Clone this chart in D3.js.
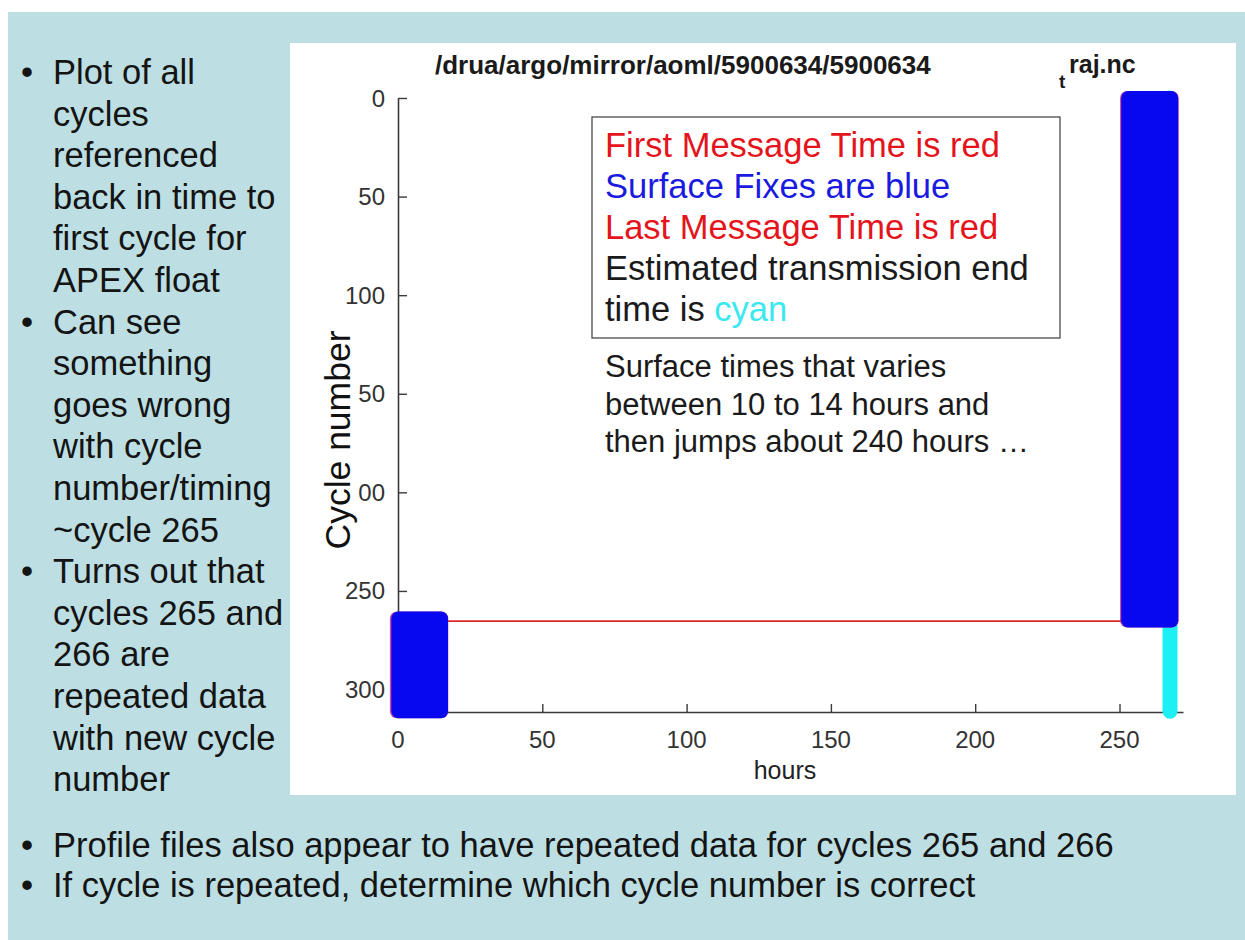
<!DOCTYPE html>
<html>
<head>
<meta charset="utf-8">
<script src="https://cdn.jsdelivr.net/npm/d3@7"></script>
<style>
  html, body { margin: 0; padding: 0; background: #ffffff; }
  svg { display: block; }
  text { font-family: "Liberation Sans", Arial, sans-serif; }
</style>
</head>
<body>
<div id="slide"></div>
<script>
// cycle blocks: 0 = cycles before the jump, 1 = repeated cycles afterwards
const blockCycleFrom = [0, 264]
const blockCycleTo = [265, 311]
const firstMsgHourFrom = [252.6, -0.4]
const surfaceFixHourFrom = [253.0, 0.1]
const surfaceFixHourTo = [267.9, 14.9]
const lastMsgHourTo = [268.1, 15.0]

// red jump line at cycle 265
const jumpHours = [15, 253]
const jumpCycle = 265.3

// estimated transmission end time (cyan)
const endTimeHour = 267.5
const endTimeCycles = [0, 311]

const xTicks = [0, 50, 100, 150, 200, 250]
const yTicks = [0, 50, 100, 150, 200, 250, 300]

const legendLines = [
    { text: "First Message Time is red", color: "#e5141c" },
    { text: "Surface Fixes are blue", color: "#1a1ae0" },
    { text: "Last Message Time is red", color: "#e5141c" },
    { text: "Estimated transmission end", color: "#1a1a1a" }
]
const noteLines = [
    "Surface times that varies",
    "between 10 to 14 hours and",
    "then jumps about 240 hours \u2026"
]
const sideBullets = [
    ["Plot of all", "cycles", "referenced", "back in time to", "first cycle for", "APEX float"],
    ["Can see", "something", "goes wrong", "with cycle", "number/timing", "~cycle 265"],
    ["Turns out that", "cycles 265 and", "266 are", "repeated data", "with new cycle", "number"]
]
const bottomBullets = [
    "Profile files also appear to have repeated data for cycles 265 and 266",
    "If cycle is repeated, determine which cycle number is correct"
]

const W = 1245, H = 940
const svg = d3.select("#slide").append("svg")
    .attr("width", W)
    .attr("height", H)

// slide background
svg.append("rect").attr("x", 8).attr("y", 12).attr("width", W - 8).attr("height", H - 12)
    .attr("fill", "#bddfe3")

// bullets on the left
const textColor = "#141414"
let line = 0
sideBullets.forEach(group => {
    group.forEach((t, i) => {
        const y = 84 + line * 41.6
        if (i === 0) {
            svg.append("text").attr("x", 21).attr("y", y).attr("font-size", 34.5)
                .attr("fill", textColor).text("\u2022")
        }
        svg.append("text").attr("x", 53).attr("y", y).attr("font-size", 34.5)
            .attr("fill", textColor).text(t)
        line++
    })
})

bottomBullets.forEach((t, i) => {
    const y = 857 + i * 40
    svg.append("text").attr("x", 21).attr("y", y).attr("font-size", 34.5)
        .attr("fill", textColor).text("\u2022")
    svg.append("text").attr("x", 53).attr("y", y).attr("font-size", 34.5)
        .attr("fill", textColor).text(t)
})

// white figure panel
svg.append("rect").attr("x", 290).attr("y", 43).attr("width", 946).attr("height", 752)
    .attr("fill", "#ffffff")

// plot area
const plot = { left: 398, top: 98, right: 1183, bottom: 712 }
const x = d3.scaleLinear().domain([0, 272]).range([plot.left, plot.right])
const y = d3.scaleLinear().domain([0, 311.4]).range([plot.top, plot.bottom])

const axisColor = "#3a3a3a"

// title
svg.append("text").attr("x", 435).attr("y", 74)
    .attr("font-size", 26).attr("font-weight", "bold").attr("fill", "#1a1a1a")
    .text("/drua/argo/mirror/aoml/5900634/5900634")
svg.append("text").attr("x", 1059).attr("y", 88)
    .attr("font-size", 19).attr("font-weight", "bold").attr("fill", "#1a1a1a")
    .text("t")
svg.append("text").attr("x", 1069).attr("y", 73)
    .attr("font-size", 25).attr("font-weight", "bold").attr("fill", "#1a1a1a")
    .text("raj.nc")

// axes, MATLAB style with ticks pointing inward (drawn under the data)
const xAxis = svg.append("g").attr("transform", `translate(0,${plot.bottom})`)
    .call(d3.axisTop(x).tickValues(xTicks).tickSize(8).tickSizeOuter(0).tickFormat(""))
const yAxis = svg.append("g").attr("transform", `translate(${plot.left},0)`)
    .call(d3.axisRight(y).tickValues(yTicks).tickSize(9).tickSizeOuter(0).tickFormat(""))
;[xAxis, yAxis].forEach(a => {
    a.select(".domain").attr("stroke", axisColor).attr("stroke-width", 1.6)
    a.selectAll(".tick line").attr("stroke", axisColor).attr("stroke-width", 1.4)
})

svg.append("g").selectAll("text").data(xTicks).join("text")
    .attr("x", d => x(d)).attr("y", 748)
    .attr("text-anchor", "middle").attr("font-size", 24).attr("fill", "#333")
    .text(d => d)
svg.append("g").selectAll("text").data(yTicks).join("text")
    .attr("x", 385).attr("y", d => y(d) + 8.5)
    .attr("text-anchor", "end").attr("font-size", 24).attr("fill", "#333")
    .text(d => d)

svg.append("text").attr("x", 785).attr("y", 779)
    .attr("text-anchor", "middle").attr("font-size", 25).attr("fill", "#222")
    .text("hours")

// y label with its white box (it covers part of two tick labels)
const ylab = svg.append("g").attr("transform", "translate(350,440) rotate(-90)")
const ylabBg = ylab.append("rect").attr("fill", "#ffffff")
const ylabText = ylab.append("text").attr("text-anchor", "middle")
    .attr("font-size", 35.5).attr("fill", "#111").text("Cycle number")
const bb = ylabText.node().getBBox()
ylabBg.attr("x", bb.x).attr("y", bb.y).attr("width", bb.width).attr("height", bb.height)

// data marks
const g = svg.append("g")
const r = 7

// cyan end time line (mostly hidden behind the blue fixes)
g.append("line")
    .attr("x1", x(endTimeHour)).attr("x2", x(endTimeHour))
    .attr("y1", y(endTimeCycles[0])).attr("y2", y(endTimeCycles[1]))
    .attr("stroke", "#1cf0f4").attr("stroke-width", 15).attr("stroke-linecap", "round")

// red line where the cycle numbering jumps
g.append("line")
    .attr("x1", x(jumpHours[0])).attr("x2", x(jumpHours[1]))
    .attr("y1", y(jumpCycle)).attr("y2", y(jumpCycle))
    .attr("stroke", "#d9262b").attr("stroke-width", 1.6)

// first / last message times (red) under the surface fixes (blue)
blockCycleFrom.forEach((c0, i) => {
    const c1 = blockCycleTo[i]
    g.append("rect")
        .attr("x", x(firstMsgHourFrom[i]) - r)
        .attr("y", y(c0) - r)
        .attr("width", x(lastMsgHourTo[i]) - x(firstMsgHourFrom[i]) + 2 * r)
        .attr("height", y(c1) - y(c0) + 2 * r)
        .attr("rx", r)
        .attr("fill", "#c8208c").attr("fill-opacity", 0.8)
    g.append("rect")
        .attr("x", x(surfaceFixHourFrom[i]) - r)
        .attr("y", y(c0) - r)
        .attr("width", x(surfaceFixHourTo[i]) - x(surfaceFixHourFrom[i]) + 2 * r)
        .attr("height", y(c1) - y(c0) + 2 * r)
        .attr("rx", r)
        .attr("fill", "#0808f0")
})

// legend box
svg.append("rect").attr("x", 592).attr("y", 117).attr("width", 468).attr("height", 221)
    .attr("fill", "#ffffff").attr("stroke", "#4a4a4a").attr("stroke-width", 1.3)
legendLines.forEach((d, i) => {
    svg.append("text").attr("x", 605).attr("y", 157 + i * 41)
        .attr("font-size", 34.5).attr("fill", d.color).text(d.text)
})
const lastLine = svg.append("text").attr("x", 605).attr("y", 321).attr("font-size", 34.5)
lastLine.append("tspan").attr("fill", "#1a1a1a").text("time is ")
lastLine.append("tspan").attr("fill", "#3ce8f0").text("cyan")

// note under the legend
noteLines.forEach((t, i) => {
    svg.append("text").attr("x", 605).attr("y", 377 + i * 37.5)
        .attr("font-size", 31).attr("fill", "#1a1a1a").text(t)
})
</script>
</body>
</html>
